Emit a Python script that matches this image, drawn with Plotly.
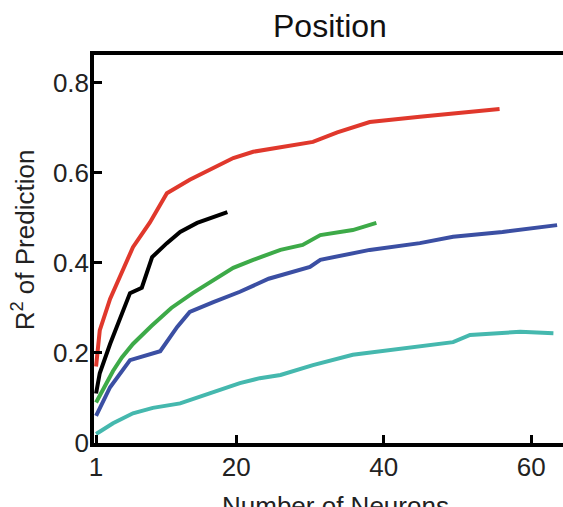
import plotly.graph_objects as go

# Data
red_x = [1, 1.5, 2.9, 4.5, 6, 8.3, 10.6, 13.7, 16.9, 19.6, 22.3, 26, 30.4, 33.7, 38.1, 44.9, 51.7, 55.7]
red_y = [0.17, 0.25, 0.32, 0.38, 0.435, 0.49, 0.555, 0.585, 0.61, 0.633, 0.647, 0.658, 0.669, 0.69, 0.713, 0.725, 0.736, 0.742]

black_x = [1, 1.5, 2.9, 3.8, 4.7, 5.6, 7.2, 8.6, 10.6, 12.4, 14.7, 16.9, 18.8]
black_y = [0.11, 0.155, 0.22, 0.258, 0.29, 0.333, 0.345, 0.413, 0.444, 0.469, 0.489, 0.502, 0.513]

green_x = [1, 2, 3.3, 4.5, 6, 8.5, 11.2, 14.1, 16.9, 19.6, 22.3, 26, 29, 31.4, 35.8, 39]
green_y = [0.09, 0.12, 0.16, 0.19, 0.22, 0.26, 0.3, 0.333, 0.362, 0.389, 0.407, 0.429, 0.44, 0.462, 0.473, 0.489]

blue_x = [1, 2.9, 5.6, 7.9, 9.7, 12, 13.7, 16.9, 20.5, 24.4, 30, 31.4, 38.1, 44.9, 49.4, 56.1, 63.5]
blue_y = [0.06, 0.124, 0.184, 0.196, 0.204, 0.258, 0.291, 0.313, 0.336, 0.365, 0.391, 0.407, 0.429, 0.444, 0.458, 0.469, 0.484]

teal_x = [1, 3.3, 6, 8.7, 12.4, 15.1, 17.8, 20.5, 23.2, 26, 30.4, 35.8, 42.6, 49.4, 51.7, 58.5, 63]
teal_y = [0.02, 0.044, 0.066, 0.078, 0.088, 0.102, 0.118, 0.133, 0.144, 0.151, 0.173, 0.196, 0.211, 0.224, 0.24, 0.247, 0.244]

x_ticks = [1, 20, 40, 60]
y_ticks = [0, 0.2, 0.4, 0.6, 0.8]
y_tick_labels = ["0", "0.2", "0.4", "0.6", "0.8"]

series = [
    (teal_x, teal_y, "#45b8ae"),
    (blue_x, blue_y, "#3b4fa3"),
    (green_x, green_y, "#3daa48"),
    (red_x, red_y, "#e0382c"),
    (black_x, black_y, "#000000"),
]

fig = go.Figure()
for xs, ys, c in series:
    fig.add_trace(go.Scatter(x=xs, y=ys, mode="lines",
                             line=dict(color=c, width=4), showlegend=False,
                             hoverinfo="skip"))

FONT = "Liberation Sans, Arial, sans-serif"

fig.update_layout(
    width=563, height=507,
    margin=dict(l=94, r=0, t=55, b=64),
    plot_bgcolor="white", paper_bgcolor="white",
    font=dict(family=FONT, size=26, color="#222222"),
    title=dict(text="Position", xref="container", yref="container",
               x=0.586, y=1 - 26 / 507, xanchor="center", yanchor="middle",
               font=dict(family=FONT, size=32, color="#111111")),
    xaxis=dict(range=[0.72, 64.3], tickvals=x_ticks, ticktext=[str(v) for v in x_ticks],
               ticks="inside", ticklen=8, tickwidth=2.5, tickcolor="black",
               showline=True, linecolor="black", linewidth=3.5, mirror=True,
               showgrid=False, zeroline=False, automargin=False,
               ticklabelstandoff=-2),
    yaxis=dict(range=[0, 0.862], tickvals=y_ticks, ticktext=y_tick_labels,
               ticks="inside", ticklen=8, tickwidth=2.5, tickcolor="black",
               showline=True, linecolor="black", linewidth=3.5,
               showgrid=False, zeroline=False, automargin=False,
               ticklabelstandoff=-4),
    annotations=[
        dict(text="Number of Neurons", xref="paper", yref="paper",
             x=0.514, y=-0.162, xanchor="center", yanchor="middle",
             showarrow=False, font=dict(family=FONT, size=26, color="#222222")),
        dict(text="R<sup>2</sup> of Prediction", xref="paper", yref="paper",
             x=-0.151, y=0.523, xanchor="center", yanchor="middle", textangle=-90,
             showarrow=False, font=dict(family=FONT, size=26, color="#222222")),
    ],
)

fig.write_html("out.html")
